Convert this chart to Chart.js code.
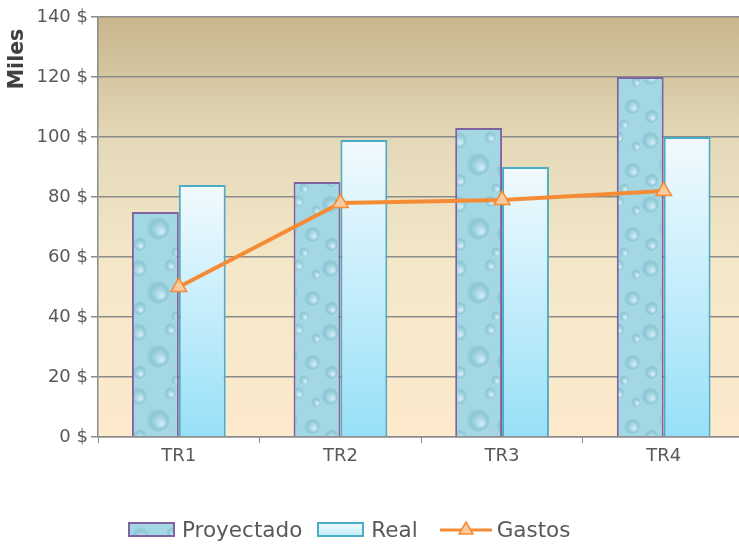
<!DOCTYPE html>
<html lang="es">
<head>
  <meta charset="UTF-8" />
  <script src="https://cdn.jsdelivr.net/npm/chart.js"></script>
  <title>Proyectado vs Real</title>
  <style>
    html, body { margin: 0; padding: 0; background: #fff; overflow: hidden; }
    #lienzo { position: absolute; left: 0; top: 0; width: 755px; height: 546px; }
    #leyenda {
      position: absolute; left: 128px; top: 514px; height: 30px;
      display: flex; align-items: center;
      font-family: "DejaVu Sans", Verdana, sans-serif; font-size: 21.5px; color: #595959;
    }
    .item { display: flex; align-items: center; margin-right: 15px; }
    .item.real { margin-right: 22px; }
    .caja { width: 43px; height: 11px; margin-right: 7px; }
    #cajaProy { border: 2px solid #8064a2; background-size: 64px 64px; }
    #cajaReal { border: 2px solid #4bacc6; background: linear-gradient(#f2fafe, #c4eefb); }
    #lineaGastos { width: 52px; height: 18px; margin-right: 5px; }
  </style>
</head>
<body>
  <div id="lienzo"><canvas id="grafico" width="755" height="546"></canvas></div>
  <div id="leyenda">
    <div class="item"><span class="caja" id="cajaProy"></span>Proyectado</div>
    <div class="item real"><span class="caja" id="cajaReal"></span>Real</div>
    <div class="item">
      <svg id="lineaGastos" viewBox="0 0 52 18">
        <line x1="0" y1="10" x2="52" y2="10" stroke="#f68b35" stroke-width="3" />
        <polygon points="26,2 33,14 19,14" fill="#fbcb9d" stroke="#f68b35" stroke-width="1.5" />
      </svg>Gastos
    </div>
  </div>
  <script>
    // datos (miles de $)
    const trimestres = ['TR1', 'TR2', 'TR3', 'TR4'];
    const proyectado = [75, 85, 103, 120];
    const real = [84, 99, 90, 100];
    const gastos = [50, 78, 79, 82];
    const ticksY = [0, 20, 40, 60, 80, 100, 120, 140];
    const tituloY = 'Miles';

    Chart.defaults.font.family = '"DejaVu Sans", Verdana, sans-serif';
    Chart.defaults.font.size = 18;
    Chart.defaults.color = '#595959';

    // textura tipo gotas de agua para la serie Proyectado
    function crearTextura() {
      const c = document.createElement('canvas');
      c.width = 64; c.height = 64;
      const g = c.getContext('2d');
      g.fillStyle = '#a3d7e3';
      g.fillRect(0, 0, 64, 64);
      const gotas = [[10, 12, 9], [42, 9, 6], [30, 36, 12], [56, 42, 8], [11, 52, 7], [48, 60, 5], [60, 18, 5]];
      gotas.forEach(([x, y, r]) => {
        const rg = g.createRadialGradient(x + r / 3, y + r / 3, 1, x, y, r);
        rg.addColorStop(0, 'rgba(220,242,248,0.75)');
        rg.addColorStop(0.7, 'rgba(125,188,205,0.6)');
        rg.addColorStop(1, 'rgba(120,180,198,0.0)');
        g.fillStyle = rg;
        g.beginPath();
        g.arc(x, y, r, 0, Math.PI * 2);
        g.fill();
      });
      return c;
    }
    const texturaCanvas = crearTextura();
    document.getElementById('cajaProy').style.backgroundImage = 'url(' + texturaCanvas.toDataURL() + ')';

    const ctx = document.getElementById('grafico').getContext('2d');
    const textura = ctx.createPattern(texturaCanvas, 'repeat');

    // fondo degradado del area de trazado + titulo del eje
    const fondo = {
      id: 'fondo',
      beforeDraw(chart) {
        const a = chart.chartArea;
        const c = chart.ctx;
        const g = c.createLinearGradient(0, a.top, 0, a.bottom);
        g.addColorStop(0, '#c8b68c');
        g.addColorStop(0.3, '#e4d9b9');
        g.addColorStop(0.6, '#f4e8c9');
        g.addColorStop(1, '#fde9cc');
        c.save();
        c.fillStyle = g;
        c.fillRect(a.left, a.top, a.width, a.height);
        c.restore();
      },
      afterDraw(chart) {
        const c = chart.ctx;
        c.save();
        c.translate(18, 59);
        c.rotate(-Math.PI / 2);
        c.font = 'bold 20.5px "DejaVu Sans", Verdana, sans-serif';
        c.fillStyle = '#404040';
        c.textAlign = 'center';
        c.textBaseline = 'middle';
        c.fillText(tituloY, 0, 0);
        c.restore();
      }
    };

    function degradadoReal(context) {
      const chart = context.chart;
      if (!chart.chartArea || context.type !== 'data') return '#c4eefb';
      const y = chart.scales.y;
      const arriba = y.getPixelForValue(context.raw);
      const base = y.getPixelForValue(0);
      const g = chart.ctx.createLinearGradient(0, arriba, 0, base);
      g.addColorStop(0, '#f2fafe');
      g.addColorStop(1, '#97e0f8');
      return g;
    }

    new Chart(ctx, {
      type: 'bar',
      data: {
        labels: trimestres,
        datasets: [
          {
            type: 'line',
            label: 'Gastos',
            data: gastos,
            borderColor: '#f68b35',
            borderWidth: 4,
            backgroundColor: '#fbcb9d',
            pointStyle: 'triangle',
            pointRadius: 9,
            pointBorderWidth: 1.5,
            pointBorderColor: '#f68b35',
            pointBackgroundColor: '#fbcb9d',
            tension: 0,
            order: 0
          },
          {
            label: 'Proyectado',
            data: proyectado,
            backgroundColor: textura,
            borderColor: '#8064a2',
            borderWidth: 2,
            barPercentage: 1,
            categoryPercentage: 0.58,
            order: 1
          },
          {
            label: 'Real',
            data: real,
            backgroundColor: degradadoReal,
            borderColor: '#4bacc6',
            borderWidth: 2,
            barPercentage: 1,
            categoryPercentage: 0.58,
            order: 1
          }
        ]
      },
      options: {
        responsive: false,
        animation: false,
        layout: { padding: { top: 17, left: 0, right: 0, bottom: 79 } },
        plugins: {
          legend: { display: false },
          tooltip: { enabled: false }
        },
        scales: {
          x: {
            offset: true,
            grid: { offset: true, drawOnChartArea: false, tickLength: 6, color: '#8c8c8c' },
            border: { color: '#8c8c8c', width: 1.5 },
            ticks: { padding: 3, color: '#595959' },
            afterFit: s => { s.height = 30; }
          },
          y: {
            min: 0,
            max: 140,
            afterBuildTicks: s => { s.ticks = ticksY.map(v => ({ value: v })); },
            ticks: { callback: v => v + ' $', padding: 3, color: '#595959' },
            grid: { color: '#8c8c8c', lineWidth: 1.5, tickLength: 7 },
            border: { color: '#8c8c8c', width: 1.5 },
            afterFit: s => { s.width = 98; }
          }
        }
      },
      plugins: [fondo]
    });
  </script>
</body>
</html>
